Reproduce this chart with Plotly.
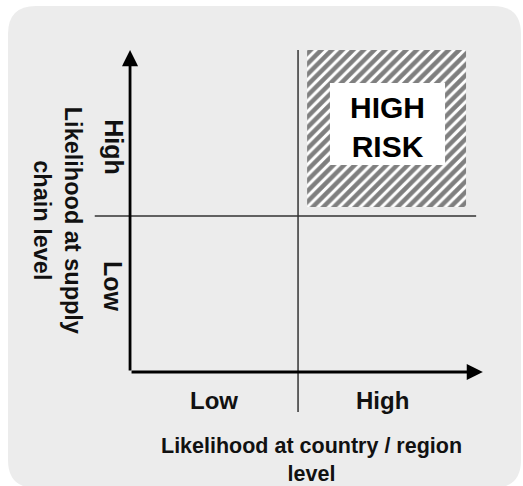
import plotly.graph_objects as go

# ---- data (categorical risk matrix) ----
x_levels = ["Low", "High"]
y_levels = ["Low", "High"]
x_title = "Likelihood at country / region<br>level"
y_title = "Likelihood at supply<br>chain level"
risk_label = "HIGH<br>RISK"

W, H = 523, 486
FONT = "Liberation Sans, Arial, sans-serif"

# one unit = one category band; divider between bands at 1
x_range = [-0.774, 2.339]
y_range = [-0.731, 2.385]

fig = go.Figure()

# hatched high-risk zone (High / High quadrant)
hx0, hx1, hy0, hy1 = 1.054, 2.0, 1.058, 2.064
fig.add_trace(go.Scatter(
    x=[hx0, hx1, hx1, hx0, hx0], y=[hy0, hy0, hy1, hy1, hy0],
    fill="toself", mode="none", fillcolor="white",
    fillpattern=dict(shape="/", fgcolor="black", bgcolor="white", size=7.5, solidity=0.6),
    hoverinfo="skip", showlegend=False))

# background rounded panel (paper coords from pixels)
def P(px, py):
    return f"{px / W:.5f},{1 - py / H:.5f}"

L, T, R, B, r = 8, 6, 521, 488, 28
path = (f"M{P(L + r, T)} L{P(R - r, T)} Q{P(R, T)} {P(R, T + r)} "
        f"L{P(R, B - r)} Q{P(R, B)} {P(R - r, B)} L{P(L + r, B)} "
        f"Q{P(L, B)} {P(L, B - r)} L{P(L, T + r)} Q{P(L, T)} {P(L + r, T)} Z")
fig.add_shape(type="path", path=path, xref="paper", yref="paper",
              fillcolor="#ececec", line=dict(width=0), layer="below")

# quadrant dividers
fig.add_shape(type="line", x0=1, x1=1, y0=-0.256, y1=2.064,
              line=dict(color="#333333", width=1.5))
fig.add_shape(type="line", x0=-0.21, x1=2.06, y0=1, y1=1,
              line=dict(color="#333333", width=1.5))

# white label box inside hatch
fig.add_shape(type="rect", x0=1.19, x1=1.875, y0=1.327, y1=1.853,
              fillcolor="white", line=dict(width=0), layer="above")

ann = []
# axis arrows
ann.append(dict(x=2.1, y=0, ax=0, ay=0, xref="x", yref="y", axref="x", ayref="y",
                text="", showarrow=True, arrowhead=2, arrowsize=1.15, arrowwidth=2.8,
                arrowcolor="black"))
ann.append(dict(x=0, y=2.064, ax=0, ay=0, xref="x", yref="y", axref="x", ayref="y",
                text="", showarrow=True, arrowhead=2, arrowsize=1.15, arrowwidth=2.8,
                arrowcolor="black"))

# x category labels
for i, lab in enumerate(x_levels):
    ann.append(dict(x=i + 0.5, y=-0.18, xref="x", yref="y", text="<b>" + lab + "</b>",
                    showarrow=False, font=dict(family=FONT, size=24, color="#111111")))
# y category labels (rotated)
y_pos = [0.55, 1.44]
for lab, yp in zip(y_levels, y_pos):
    ann.append(dict(x=-0.10, y=yp, xref="x", yref="y", text="<b>" + lab + "</b>",
                    textangle=90, showarrow=False,
                    font=dict(family=FONT, size=25, color="#111111")))

# axis titles
ann.append(dict(x=1.08, y=-0.565, xref="x", yref="y", text="<b>" + x_title + "</b>",
                showarrow=False, font=dict(family=FONT, size=21.5, color="#111111")))
ann.append(dict(x=-0.435, y=0.97, xref="x", yref="y", text="<b>" + y_title + "</b>",
                showarrow=False, textangle=90,
                font=dict(family=FONT, size=23.5, color="#111111")))

# high risk label
ann.append(dict(x=1.53, y=1.57, xref="x", yref="y", text="<b>" + risk_label + "</b>",
                showarrow=False, font=dict(family=FONT, size=30, color="black")))

fig.update_layout(
    width=W, height=H, margin=dict(l=0, r=0, t=0, b=0),
    paper_bgcolor="white", plot_bgcolor="rgba(0,0,0,0)",
    xaxis=dict(range=x_range, visible=False, fixedrange=True),
    yaxis=dict(range=y_range, visible=False, fixedrange=True),
    annotations=ann, showlegend=False,
)

fig.write_html("out.html", config={"displayModeBar": False, "staticPlot": True},
               post_script="document.body.style.margin='0';")
